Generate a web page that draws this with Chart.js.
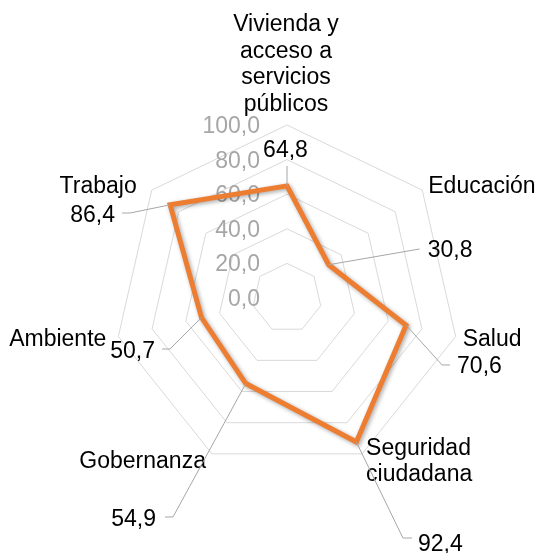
<!DOCTYPE html>
<html>
<head>
<meta charset="utf-8">
<script src="https://cdn.jsdelivr.net/npm/chart.js@4/dist/chart.umd.min.js"></script>
<style>
  html, body { margin: 0; padding: 0; background: #ffffff; }
  #wrap { width: 540px; height: 553px; position: relative; }
</style>
</head>
<body>
<div id="wrap"><canvas id="c"></canvas></div>
<script>
// ---- data ----
const categories = [
  ["Vivienda y", "acceso a", "servicios", "públicos"],
  ["Educación"],
  ["Salud"],
  ["Seguridad", "ciudadana"],
  ["Gobernanza"],
  ["Ambiente"],
  ["Trabajo"]
];
const values = [64.8, 30.8, 70.6, 92.4, 54.9, 50.7, 86.4];
const tickValues = [0, 20, 40, 60, 80, 100];

// ---- layout (offsets only, relative to scale-derived positions) ----
const FONT = "'Liberation Sans', Arial, sans-serif";
const FS = 23;
// category labels: offset from outer-ring vertex; first-line baseline
const catLayout = [
  { dx: -1,  dy: -94, align: "center" },
  { dx: 6,   dy: 3,   align: "left" },
  { dx: 7,   dy: 9.5, align: "left" },
  { dx: 4,   dy: 1,   align: "left" },
  { dx: -6,  dy: 14,  align: "right" },
  { dx: -12, dy: 9.5, align: "right" },
  { dx: -15, dy: 3,   align: "right" }
];
// value labels: text offset from data point, plus leader polyline offsets
const valLayout = [
  { dx: -1.5,  dy: -29,   align: "center", leader: [[0, -20]] },
  { dx: 99,    dy: -7.8,  align: "left",   leader: [[91, -15.8]] },
  { dx: 51,    dy: 47.8,  align: "left",   leader: [[36, 39.8], [44, 39.8]] },
  { dx: 61.6,  dy: 109,   align: "left",   leader: [[46.6, 96], [55.6, 96]] },
  { dx: -89.8, dy: 142.4, align: "right",  leader: [[-72.8, 133.4], [-80.8, 133.4]] },
  { dx: -46.5, dy: 40.5,  align: "right",  leader: [[-31.5, 31.5], [-39.5, 31.5]] },
  { dx: -55.1, dy: 17.2,  align: "right",  leader: [[-40, 8.2], [-48, 8.2]] }
];

const fmt = v => v.toFixed(1).replace(".", ",");

const shadowPlugin = {
  id: "shadow",
  beforeDatasetsDraw(chart) {
    const ctx = chart.ctx;
    const s = chart.scales.r;
    // tick labels (drawn under the series line)
    ctx.save();
    ctx.font = FS + "px " + FONT;
    ctx.fillStyle = "#a6a6a6";
    ctx.textAlign = "right";
    ctx.textBaseline = "alphabetic";
    tickValues.forEach(v => {
      const d = s.getDistanceFromCenterForValue(v);
      ctx.fillText(fmt(v), s.xCenter - 27, s.yCenter - d + 8);
    });
    ctx.restore();
    ctx.save();
    ctx.shadowColor = "rgba(0,0,0,0.35)";
    ctx.shadowBlur = 4;
    ctx.shadowOffsetX = 1.5;
    ctx.shadowOffsetY = 1.5;
  },
  afterDatasetsDraw(chart) {
    chart.ctx.restore();
  }
};

const labelsPlugin = {
  id: "labelsPlugin",
  afterDraw(chart) {
    const ctx = chart.ctx;
    const s = chart.scales.r;
    ctx.save();
    ctx.font = FS + "px " + FONT;
    ctx.textBaseline = "alphabetic";
    // category labels
    ctx.fillStyle = "#000000";
    categories.forEach((lines, i) => {
      const p = s.getPointPositionForValue(i, 100);
      const L = catLayout[i];
      ctx.textAlign = L.align;
      lines.forEach((t, k) => ctx.fillText(t, p.x + L.dx, p.y + L.dy + k * 26.5));
    });
    // leaders + value labels
    values.forEach((v, i) => {
      const p = s.getPointPositionForValue(i, v);
      const L = valLayout[i];
      ctx.strokeStyle = "#a6a6a6";
      ctx.lineWidth = 1;
      ctx.beginPath();
      ctx.moveTo(p.x, p.y);
      L.leader.forEach(q => ctx.lineTo(p.x + q[0], p.y + q[1]));
      ctx.stroke();
      ctx.fillStyle = "#000000";
      ctx.textAlign = L.align;
      ctx.fillText(fmt(v), p.x + L.dx, p.y + L.dy);
    });
    ctx.restore();
  }
};

new Chart(document.getElementById("c"), {
  type: "radar",
  data: {
    labels: categories,
    datasets: [{
      data: values,
      borderColor: "#ED7D31",
      borderWidth: 5,
      backgroundColor: "rgba(0,0,0,0)",
      fill: false,
      pointRadius: 0,
      pointHoverRadius: 0,
      tension: 0
    }]
  },
  options: {
    responsive: true,
    maintainAspectRatio: false,
    animation: false,
    events: [],
    layout: { padding: { left: 114, right: 80, top: 125, bottom: 82 } },
    plugins: { legend: { display: false }, tooltip: { enabled: false } },
    scales: {
      r: {
        min: 0,
        max: 100,
        ticks: { display: false, stepSize: 20 },
        grid: { color: "#d9d9d9", lineWidth: 1 },
        angleLines: { display: false },
        pointLabels: { display: false }
      }
    }
  },
  plugins: [shadowPlugin, labelsPlugin]
});
</script>
</body>
</html>
